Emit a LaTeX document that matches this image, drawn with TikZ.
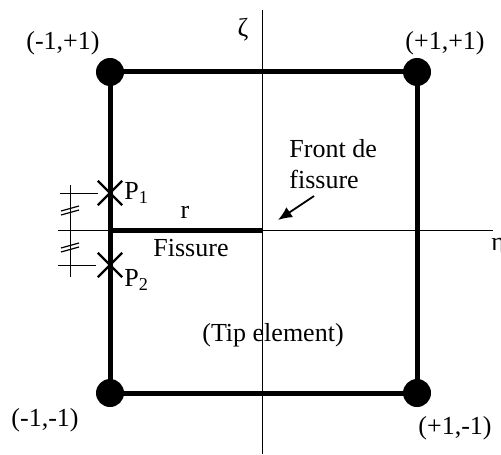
\documentclass[tikz,border=0pt]{standalone}
\usepackage{fontspec}
\setmainfont{Liberation Serif}
\usetikzlibrary{shapes.misc,arrows.meta}
\tikzset{
  corner/.style={circle,fill=black,inner sep=0pt,minimum size=14pt},
  lbl/.style={font=\fontsize{13}{15.6}\selectfont,inner sep=0pt},
  pt/.style={cross out,draw=black,line width=1.2pt,minimum size=11pt,inner sep=0pt},
  edge/.style={line width=2.5pt},
  axis/.style={line width=0.5pt}
}
\begin{document}
\begin{tikzpicture}[x=0.5pt,y=-0.5pt]
\useasboundingbox (0,0) rectangle (501,454);
% axes
\coordinate (zt) at (262,10);
\coordinate (zb) at (262,454);
\coordinate (el) at (58,230);
\coordinate (er) at (493,230);
\draw[axis] (zt) -- (zb);
\draw[axis] (el) -- (er);
\node[lbl] (zeta) at (243,30) {ζ};
\node[lbl,anchor=west] (eta) at (491,247) {η};
% element
\node[corner] (tl) at (110,72) {};
\node[corner] (tr) at (417,72) {};
\node[corner] (br) at (417,393) {};
\node[corner] (bl) at (110,393) {};
\draw[edge] (tl.center) -- (tr.center) -- (br.center) -- (bl.center) -- cycle;
\node[lbl] (ltl) at (63,43) {(-1,+1)};
\node[lbl] (ltr) at (445,43) {(+1,+1)};
\node[lbl] (lbl) at (45,420) {(-1,-1)};
\node[lbl] (lbr) at (455,428) {(+1,-1)};
% crack
\coordinate (ctip) at (262,230);
\coordinate (cbase) at (110,230);
\draw[edge] (cbase) -- (ctip);
\node[lbl] (r) at (185,212) {r};
\node[lbl] (fiss) at (191,248) {Fissure};
\node[lbl,anchor=west,align=left] (front) at (289,164) {Front de\\fissure};
\coordinate (ar) at (314,196);
\coordinate (ah) at (278,220);
\draw[line width=0.9pt,-{Latex[length=7pt,width=6pt]}] (ar) -- (ah);
\node[lbl] (tip) at (273,335) {(Tip element)};
% Gauss points
\node[pt] (P1) at (110,193) {};
\node[pt] (P2) at (110,265) {};
\node[lbl,anchor=west] (lp1) at (124,193) {P\textsubscript{1}};
\node[lbl,anchor=west] (lp2) at (124,280) {P\textsubscript{2}};
% equal spacing marks
\coordinate (d1) at (60,193);
\coordinate (d1e) at (98,193);
\coordinate (d2) at (58,265);
\coordinate (d2e) at (96,265);
\coordinate (dv1) at (70,185);
\coordinate (dv2) at (70,277);
\draw[axis] (d1) -- (d1e);
\draw[axis] (d2) -- (d2e);
\draw[axis] (dv1) -- (dv2);
\foreach \y in {210,247} {
  \draw[line width=0.6pt] (61,\y+1) -- (79,\y-4);
  \draw[line width=0.6pt] (61,\y+5) -- (79,\y);
}
\end{tikzpicture}
\end{document}
